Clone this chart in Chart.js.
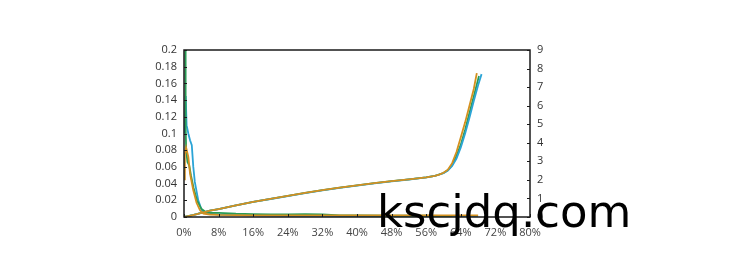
<!DOCTYPE html>
<html>
<head>
<meta charset="utf-8">
<script src="https://cdn.jsdelivr.net/npm/chart.js@4"></script>
<style>
  html, body { margin: 0; padding: 0; background: #fff; }
  #wrap { position: relative; width: 750px; height: 257px; }
  #mark { position: absolute; left: 377px; top: 189px; font: 45px "DejaVu Sans", sans-serif; line-height: 45px; color: #000; white-space: nowrap; }
</style>
</head>
<body>
<div id="wrap">
  <canvas id="chart" width="750" height="257"></canvas>
  <div id="mark">kscjdq.com</div>
</div>
<script>
// tick values
const xTicks = [0, 8, 16, 24, 32, 40, 48, 56, 64, 72, 80];
const leftTicks = [0, 0.02, 0.04, 0.06, 0.08, 0.1, 0.12, 0.14, 0.16, 0.18, 0.2];
const rightTicks = [0, 1, 2, 3, 4, 5, 6, 7, 8, 9];

// falling curves (left axis)
const greenFallX = [0.3, 0.35, 0.4, 0.5, 0.8, 1.2, 1.6, 2.2, 3, 4, 5, 6, 8, 12, 16, 20, 24, 28, 32, 36, 40, 48, 56, 62];
const greenFallY = [0.2, 0.16, 0.11, 0.08, 0.066, 0.062, 0.05, 0.035, 0.02, 0.01, 0.006, 0.005, 0.005, 0.004, 0.0035, 0.003, 0.003, 0.0035, 0.003, 0.002, 0.002, 0.0015, 0.0015, 0.001];
const blueFallX = [0.1, 0.4, 0.6, 1.0, 1.4, 1.8, 2.15, 2.5, 3.3, 4.1, 5, 6, 8, 16, 24, 32, 40, 48, 56, 64, 68];
const blueFallY = [0.1, 0.145, 0.11, 0.1, 0.092, 0.086, 0.06, 0.042, 0.02, 0.008, 0.005, 0.004, 0.003, 0.002, 0.0015, 0.0015, 0.001, 0.001, 0.001, 0.001, 0.001];
const orangeFallX = [0, 0.2, 0.5, 1.0, 1.4, 2.15, 2.9, 3.7, 4.5, 6, 8, 16, 24, 32, 40, 48, 56, 64, 68];
const orangeFallY = [0.045, 0.075, 0.083, 0.072, 0.052, 0.032, 0.017, 0.008, 0.004, 0.003, 0.0025, 0.002, 0.002, 0.002, 0.002, 0.002, 0.002, 0.002, 0.002];

// rising curves (right axis)
const orangeRiseX = [0, 1, 2, 3, 4, 5, 6, 8, 12, 16, 20, 24, 28, 32, 36, 40, 44, 48, 52, 56, 58, 59, 60, 61, 62, 63, 64, 65, 66, 67, 67.7];
const orangeRiseY = [0, 0.05, 0.1, 0.16, 0.22, 0.28, 0.34, 0.43, 0.63, 0.82, 0.98, 1.14, 1.3, 1.45, 1.58, 1.7, 1.82, 1.93, 2.03, 2.14, 2.22, 2.28, 2.38, 2.55, 2.9, 3.5, 4.3, 5.1, 6.0, 6.9, 7.75];
const blueRiseX = [0, 1, 2, 3, 4, 5, 6, 8, 12, 16, 20, 24, 28, 32, 36, 40, 44, 48, 52, 56, 58, 60, 61, 62, 63, 64, 65, 66, 67, 68, 68.8];
const blueRiseY = [0, 0.05, 0.1, 0.16, 0.22, 0.28, 0.34, 0.43, 0.63, 0.81, 0.97, 1.13, 1.29, 1.44, 1.57, 1.69, 1.81, 1.92, 2.02, 2.13, 2.21, 2.36, 2.5, 2.75, 3.15, 3.75, 4.5, 5.35, 6.25, 7.1, 7.7];
const greenRiseX = [0, 2, 4, 6, 8, 12, 16, 20, 24, 28, 32, 36, 40, 44, 48, 52, 56, 58, 60, 61, 62, 63, 64, 65, 66, 67, 68.2];
const greenRiseY = [0, 0.1, 0.22, 0.34, 0.43, 0.63, 0.82, 0.98, 1.14, 1.3, 1.45, 1.58, 1.7, 1.82, 1.93, 2.03, 2.14, 2.22, 2.37, 2.52, 2.8, 3.3, 3.9, 4.7, 5.6, 6.5, 7.6];

const ORANGE = '#d4901f';
const BLUE = '#2ba4d6';
const GREEN = '#2a9b55';

function pts(xs, ys) { return xs.map((x, i) => ({ x: x, y: ys[i] })); }

function series(xs, ys, color, axis) {
  return {
    data: pts(xs, ys),
    borderColor: color,
    backgroundColor: color,
    borderWidth: 1.8,
    pointRadius: 0,
    tension: 0,
    yAxisID: axis
  };
}

// frame + inward tick marks
const framePlugin = {
  id: 'frame',
  afterDatasetsDraw(chart) {
    const { ctx, chartArea: a, scales } = chart;
    ctx.save();
    ctx.strokeStyle = '#1a1a1a';
    ctx.lineWidth = 1.5;
    ctx.strokeRect(a.left, a.top, a.right - a.left, a.bottom - a.top);
    ctx.lineWidth = 1;
    ctx.beginPath();
    leftTicks.forEach(v => {
      const y = Math.round(scales.yL.getPixelForValue(v)) + 0.5;
      ctx.moveTo(a.left, y); ctx.lineTo(a.left + 3, y);
    });
    rightTicks.forEach(v => {
      const y = Math.round(scales.yR.getPixelForValue(v)) + 0.5;
      ctx.moveTo(a.right, y); ctx.lineTo(a.right - 3, y);
    });
    xTicks.forEach(v => {
      const x = Math.round(scales.x.getPixelForValue(v)) + 0.5;
      ctx.moveTo(x, a.bottom); ctx.lineTo(x, a.bottom - 3);
    });
    ctx.stroke();
    ctx.restore();
  }
};

const tickFont = { family: '"Open Sans", "DejaVu Sans", sans-serif', size: 11 };

new Chart(document.getElementById('chart'), {
  type: 'line',
  data: {
    datasets: [
      series(orangeFallX, orangeFallY, ORANGE, 'yL'),
      series(orangeRiseX, orangeRiseY, ORANGE, 'yR'),
      series(greenFallX, greenFallY, GREEN, 'yL'),
      series(blueRiseX, blueRiseY, BLUE, 'yR'),
      series(greenRiseX, greenRiseY, GREEN, 'yR'),
      series(blueFallX, blueFallY, BLUE, 'yL')
    ]
  },
  options: {
    responsive: false,
    devicePixelRatio: 1,
    animation: false,
    layout: { padding: { top: 50, left: 0, right: 0, bottom: 0 } },
    plugins: { legend: { display: false }, tooltip: { enabled: false } },
    scales: {
      x: {
        type: 'linear',
        min: 0, max: 80,
        afterBuildTicks: s => { s.ticks = xTicks.map(v => ({ value: v })); },
        afterFit: s => { s.height = 40; },
        grid: { display: false, drawTicks: false },
        border: { display: false },
        ticks: { padding: 9, color: '#444', font: tickFont, callback: v => v + '%', maxRotation: 0 }
      },
      yL: {
        position: 'left',
        min: 0, max: 0.2,
        afterBuildTicks: s => { s.ticks = leftTicks.map(v => ({ value: v })); },
        afterFit: s => { s.width = 184; },
        grid: { display: false, drawTicks: false },
        border: { display: false },
        ticks: { padding: 7, color: '#333', font: tickFont, callback: v => String(v) }
      },
      yR: {
        position: 'right',
        min: 0, max: 9,
        afterBuildTicks: s => { s.ticks = rightTicks.map(v => ({ value: v })); },
        afterFit: s => { s.width = 220; },
        grid: { display: false, drawTicks: false },
        border: { display: false },
        ticks: { padding: 7, color: '#333', font: tickFont, callback: v => String(v) }
      }
    }
  },
  plugins: [framePlugin]
});
</script>
</body>
</html>
